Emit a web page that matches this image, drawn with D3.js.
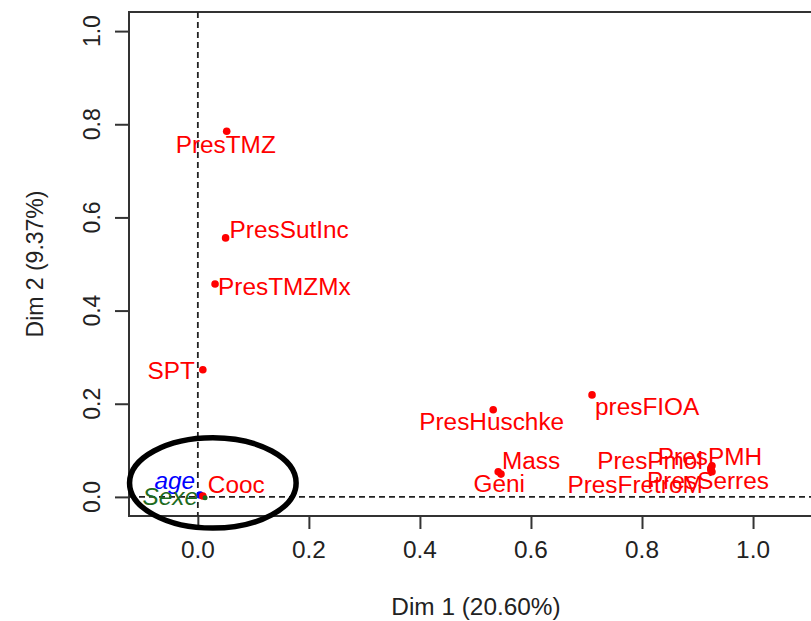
<!DOCTYPE html>
<html><head><meta charset="utf-8">
<script src="https://cdn.jsdelivr.net/npm/d3@7"></script>
<style>html,body{margin:0;padding:0;background:#fff;}</style>
</head><body>
<script>
// ---- data ----
const names = ["PresTMZ","PresSutInc","PresTMZMx","SPT","PresHuschke","presFIOA","Mass","Geni","PresPmol","PresPMH","PresSerres","PresFretroM","age","Cooc","Sexe"];
const dim1  = [0.052,0.050,0.031,0.009,0.532,0.710,0.546,0.541,0.924,0.926,0.926,0.924,0.004,0.009,0.013];
const dim2  = [0.785,0.556,0.457,0.273,0.187,0.219,0.049,0.054,0.062,0.067,0.054,0.058,0.004,0.002,-0.002];
const groups = ["var","var","var","var","var","var","var","var","var","var","var","var","age","var","sexe"];
const xTicks = [0.0,0.2,0.4,0.6,0.8,1.0];
const yTicks = [0.0,0.2,0.4,0.6,0.8,1.0];
const xTitle = "Dim 1 (20.60%)";
const yTitle = "Dim 2 (9.37%)";
// annotation ellipse (data units): cx, cy, rx, ry
const ellipse = [0.027, 0.030, 0.150, 0.097];

// ---- styles / layout ----
const colors = {var:"#ff0000", age:"#0000ff", sexe:"#1e6b1e"};
const italic = {var:false, age:true, sexe:true};
// label offsets in px relative to point [dx, dy, anchor]
const labelPos = [[-1,22,"middle"],[4,0,"start"],[3,11,"start"],[-8,9,"end"],[-1.5,20,"middle"],[3,20,"start"],
  [1,-5,"start"],[1,20,"middle"],[-8,1,"end"],[-2,-1,"middle"],[-4,17,"middle"],[-8,23,"end"],
  [-5,-6,"end"],[5,-3,"start"],[-7,7,"end"]];

const W=811, H=621;
const FS = 23;
const plot = {l:129, r:823, t:12, b:516};
const x = d3.scaleLinear().domain([-0.124,1.126]).range([plot.l, plot.r]);
const y = d3.scaleLinear().domain([-0.041,1.041]).range([plot.b, plot.t]);
const SX = 1.06;

const svg = d3.select("body").append("svg").attr("width",W).attr("height",H)
  .style("font-family","'Liberation Sans', Arial, sans-serif");

function txt(px, py, s, anchor, color, opts={}){
  const g = svg.append("g").attr("transform",`translate(${px},${py}) scale(${SX},1)` + (opts.rot?` rotate(${opts.rot})`:""));
  g.append("text").attr("text-anchor",anchor).attr("font-size",FS).attr("fill",color)
    .attr("font-style", opts.italic?"italic":"normal").text(s);
}

// box
svg.append("rect").attr("x",plot.l).attr("y",plot.t).attr("width",plot.r-plot.l).attr("height",plot.b-plot.t)
  .attr("fill","none").attr("stroke","#333").attr("stroke-width",2);

// dashed reference lines
svg.append("line").attr("x1",plot.l).attr("x2",plot.r).attr("y1",y(0)).attr("y2",y(0))
  .attr("stroke","#222").attr("stroke-width",1.8).attr("stroke-dasharray","6,4");
svg.append("line").attr("x1",x(0)).attr("x2",x(0)).attr("y1",plot.t).attr("y2",plot.b)
  .attr("stroke","#222").attr("stroke-width",1.8).attr("stroke-dasharray","6,4");

// axes
const xAxis = d3.axisBottom(x).tickValues(xTicks).tickSize(13).tickFormat(()=> "");
const gx = svg.append("g").attr("transform",`translate(0,${plot.b})`).call(xAxis);
gx.select(".domain").remove();
gx.selectAll("line").attr("stroke","#333").attr("stroke-width",2);
xTicks.forEach(v=> txt(x(v), 558, d3.format(".1f")(v), "middle", "#222"));

const yAxis = d3.axisLeft(y).tickValues(yTicks).tickSize(14).tickFormat(()=> "");
const gy = svg.append("g").attr("transform",`translate(${plot.l},0)`).call(yAxis);
gy.select(".domain").remove();
gy.selectAll("line").attr("stroke","#333").attr("stroke-width",2);
yTicks.forEach(v=> txt(100, y(v), d3.format(".1f")(v), "middle", "#222", {rot:-90}));

txt((plot.l+plot.r)/2, 615, xTitle, "middle", "#222");
txt(43, (plot.t+plot.b)/2, yTitle, "middle", "#222", {rot:-90});

// points
names.forEach((n,i)=>{
  const r = groups[i]==="sexe"?2.5:3.8;
  svg.append("circle").attr("cx",x(dim1[i])).attr("cy",y(dim2[i])).attr("r",r)
    .attr("fill",colors[groups[i]]);
});
// labels
names.forEach((n,i)=>{
  const p = labelPos[i];
  txt(x(dim1[i])+p[0], y(dim2[i])+p[1], n, p[2], colors[groups[i]], {italic: italic[groups[i]]});
});

// annotation ellipse
svg.append("ellipse").attr("cx",x(ellipse[0])).attr("cy",y(ellipse[1]))
  .attr("rx",x(ellipse[2])-x(0)).attr("ry",y(0)-y(ellipse[3]))
  .attr("fill","none").attr("stroke","#000").attr("stroke-width",5.5);
</script>
</body></html>
